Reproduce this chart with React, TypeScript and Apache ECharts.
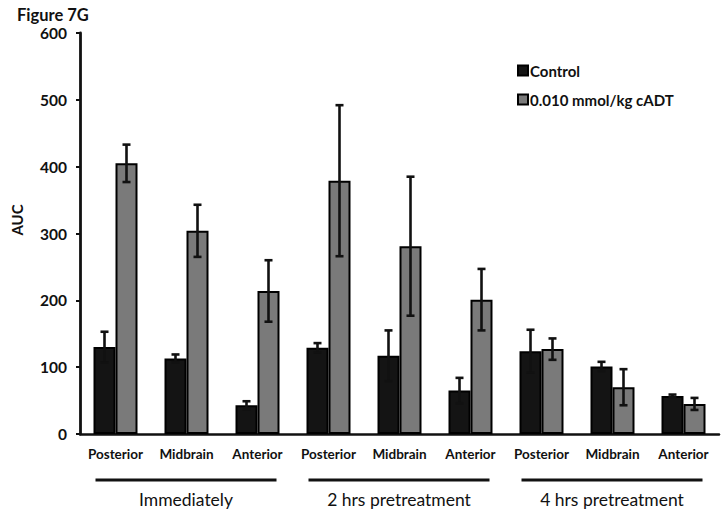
import React, { useEffect, useRef } from "react";
import * as echarts from "echarts";

const categories = ["Posterior", "Midbrain", "Anterior", "Posterior", "Midbrain", "Anterior", "Posterior", "Midbrain", "Anterior"];
const groups = ["Immediately", "2 hrs pretreatment", "4 hrs pretreatment"];
const controlValues = [130, 113, 43, 129, 117, 65, 124, 101, 57];
const controlErrors = [23, 6, 6, 7, 38, 19, 32, 7, 2];
const cadtValues = [405, 304, 214, 379, 281, 201, 127, 70, 45];
const cadtErrors = [28, 39, 46, 113, 104, 46, 16, 27, 9];
const yTicks = { min: 0, max: 600, interval: 100 };

const FONT = "Lato, 'Open Sans', sans-serif";

export default function App() {
  const ref = useRef<HTMLDivElement>(null);
  useEffect(() => {
    if (!ref.current) return;
    const chart = echarts.init(ref.current, null, { renderer: "svg" });
    const barWidth = 22;
    const errData = (vals: number[], errs: number[], side: number) =>
      vals.map((v, i) => [i, v - errs[i], v + errs[i], side]);
    const renderErr = (params: any, api: any) => {
      const i = api.value(0);
      const lo = api.coord([i, api.value(1)]);
      const hi = api.coord([i, api.value(2)]);
      const side = api.value(3);
      const x = lo[0] + side * barWidth / 2;
      const cap = 4;
      const style = { stroke: "#111", lineWidth: 2.6 };
      return {
        type: "group",
        children: [
          { type: "line", shape: { x1: x, y1: lo[1], x2: x, y2: hi[1] }, style },
          { type: "line", shape: { x1: x - cap, y1: hi[1], x2: x + cap, y2: hi[1] }, style },
          { type: "line", shape: { x1: x - cap, y1: lo[1], x2: x + cap, y2: lo[1] }, style },
        ],
      };
    };
    chart.setOption({
      animation: false,
      title: {
        text: "Figure 7G",
        left: 12,
        top: 1,
        textStyle: { fontFamily: FONT, fontSize: 16.5, fontWeight: "bold", color: "#111" },
      },
      legend: {
        orient: "vertical",
        left: 512,
        top: 58,
        itemWidth: 10,
        itemHeight: 10,
        itemGap: 14,
        icon: "rect",
        data: ["Control", "0.010 mmol/kg cADT"],
        textStyle: { fontFamily: FONT, fontSize: 15, fontWeight: "bold", color: "#111", padding: [0, 0, 0, -3] },
      },
      grid: { left: 80, right: 7, top: 33, bottom: 81 },
      xAxis: {
        type: "category",
        data: categories,
        axisLine: { lineStyle: { color: "#111", width: 2.5 } },
        axisTick: { show: false },
        axisLabel: { fontFamily: FONT, fontSize: 13.5, fontWeight: "bold", color: "#111", margin: 13, interval: 0 },
      },
      yAxis: {
        type: "value",
        min: yTicks.min,
        max: yTicks.max,
        interval: yTicks.interval,
        splitLine: { show: false },
        axisLine: { show: true, lineStyle: { color: "#111", width: 2.8 } },
        axisTick: { show: true, length: 4, lineStyle: { color: "#111", width: 2 } },
        axisLabel: { fontFamily: FONT, fontSize: 15.5, fontWeight: "bold", color: "#111", margin: 13 },
      },
      series: [
        {
          name: "Control",
          type: "bar",
          data: controlValues,
          barWidth,
          barGap: "0%",
          itemStyle: { color: "#141414", borderColor: "#000", borderWidth: 2 },
        },
        {
          name: "0.010 mmol/kg cADT",
          type: "bar",
          data: cadtValues,
          barWidth,
          barGap: "0%",
          itemStyle: { color: "#7a7a7a", borderColor: "#000", borderWidth: 2 },
        },
        {
          type: "custom",
          renderItem: renderErr,
          data: errData(controlValues, controlErrors, -1),
          z: 10,
          silent: true,
        },
        {
          type: "custom",
          renderItem: renderErr,
          data: errData(cadtValues, cadtErrors, 1),
          z: 10,
          silent: true,
        },
      ],
    });
    const graphics: any[] = [
      {
        type: "text",
        x: 17,
        y: 220,
        rotation: Math.PI / 2,
        style: { text: "AUC", fontFamily: FONT, fontSize: 15, fontWeight: "bold", fill: "#111", align: "center", verticalAlign: "middle" },
      },
    ];
    groups.forEach((g, gi) => {
      const a = chart.convertToPixel({ xAxisIndex: 0 }, gi * 3) as number;
      const b = chart.convertToPixel({ xAxisIndex: 0 }, gi * 3 + 2) as number;
      const x1 = a - 20;
      const x2 = b + 19;
      graphics.push({
        type: "line",
        shape: { x1, y1: 480, x2, y2: 480 },
        style: { stroke: "#111", lineWidth: 2.8 },
      });
      graphics.push({
        type: "text",
        x: (x1 + x2) / 2,
        y: 499,
        style: { text: g, fontFamily: FONT, fontSize: 17.5, fill: "#111", align: "center", verticalAlign: "middle" },
      });
    });
    chart.setOption({ graphic: graphics });
    return () => chart.dispose();
  }, []);
  return <div ref={ref} style={{ width: 726, height: 515, position: "absolute", left: 0, top: 0 }} />;
}
